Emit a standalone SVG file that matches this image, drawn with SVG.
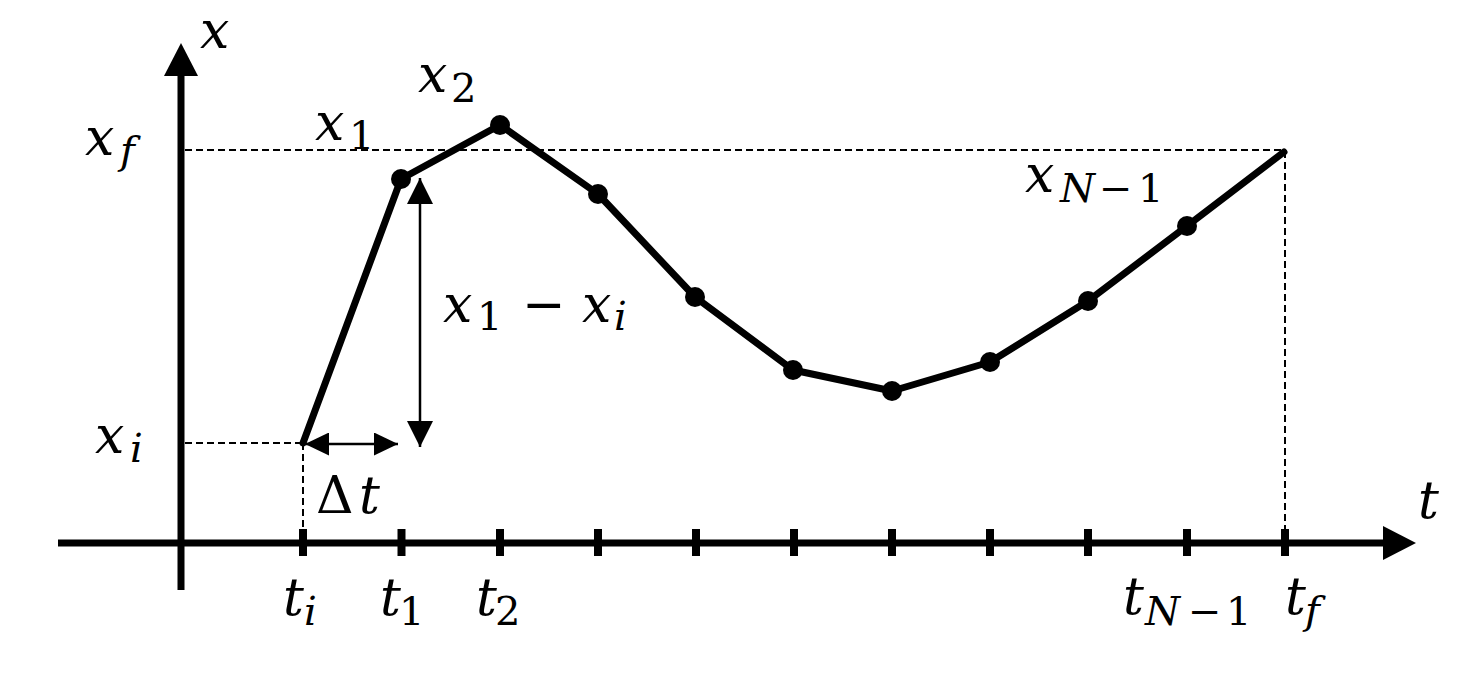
<svg xmlns="http://www.w3.org/2000/svg" width="1483" height="695" viewBox="0 0 1483 695">
<defs>
<marker id="ah" markerUnits="userSpaceOnUse" markerWidth="26" markerHeight="26" refX="26" refY="13" orient="auto-start-reverse" viewBox="0 0 26 26">
<path d="M0,0 L26,13 L0,26 Z" fill="#000"/>
</marker>
<marker id="ahs" markerUnits="userSpaceOnUse" markerWidth="24" markerHeight="23" refX="24" refY="11.5" orient="auto-start-reverse" viewBox="0 0 24 23">
<path d="M0,0 L24,11.5 L0,23 Z" fill="#000"/>
</marker>
</defs>
<rect width="1483" height="695" fill="#fff"/>
<g id="axes" stroke="#000" fill="none">
<line stroke-width="7" x1="181" y1="590" x2="181" y2="74"/>
<polygon points="181,43 164,76 198,76" fill="#000" stroke="none"/>
<line stroke-width="7" x1="58" y1="543" x2="1386" y2="543"/>
<polygon points="1416,543 1383,526 1383,560" fill="#000" stroke="none"/>
<g id="ticks" stroke-width="8">
<line x1="303" y1="529" x2="303" y2="556"/>
<line x1="401.5" y1="529" x2="401.5" y2="556"/>
<line x1="500" y1="529" x2="500" y2="556"/>
<line x1="598" y1="529" x2="598" y2="556"/>
<line x1="696" y1="529" x2="696" y2="556"/>
<line x1="794" y1="529" x2="794" y2="556"/>
<line x1="892" y1="529" x2="892" y2="556"/>
<line x1="990" y1="529" x2="990" y2="556"/>
<line x1="1088" y1="529" x2="1088" y2="556"/>
<line x1="1187" y1="529" x2="1187" y2="556"/>
<line x1="1285" y1="529" x2="1285" y2="556"/>
</g>
</g>
<g id="guides" stroke="#000" stroke-width="2" stroke-dasharray="7 4" fill="none">
<line x1="185" y1="150" x2="1285" y2="150"/>
<line x1="185" y1="443" x2="303" y2="443"/>
<line x1="303" y1="443" x2="303" y2="540"/>
<line x1="1285" y1="151" x2="1285" y2="540"/>
</g>
<g id="connectors" stroke="#000" fill="none">
<polyline stroke-width="7" stroke-linejoin="round" stroke-linecap="round" points="303,443 401,179 500,125 598,194 695,297 793,370 892,391 990,362 1088,301 1187,226 1284,152"/>
<line stroke-width="2.5" x1="420" y1="178" x2="420" y2="447" marker-start="url(#ah)" marker-end="url(#ah)"/>
<line stroke-width="2.5" x1="305" y1="444" x2="398" y2="444" marker-start="url(#ahs)" marker-end="url(#ahs)"/>
</g>
<g id="points" fill="#000">
<circle id="p1" cx="401" cy="179" r="10"/>
<circle id="p2" cx="500" cy="125" r="10"/>
<circle id="p3" cx="598" cy="194" r="10"/>
<circle id="p4" cx="695" cy="297" r="10"/>
<circle id="p5" cx="793" cy="370" r="10"/>
<circle id="p6" cx="892" cy="391" r="10"/>
<circle id="p7" cx="990" cy="362" r="10"/>
<circle id="p8" cx="1088" cy="301" r="10"/>
<circle id="p9" cx="1187" cy="226" r="10"/>
</g>
<text x="200" y="48" font-family="DejaVu Serif" font-style="italic" font-size="52">x</text>
<text x="1418" y="518" font-family="DejaVu Serif" font-style="italic" font-size="52">t</text>
<text font-family="DejaVu Serif" font-style="italic" font-size="52"><tspan x="85" y="155">x</tspan><tspan font-size="40" x="120" y="164">f</tspan></text>
<text font-family="DejaVu Serif" font-style="italic" font-size="52"><tspan x="95" y="453">x</tspan><tspan font-size="40" x="130" y="462">i</tspan></text>
<text font-family="DejaVu Serif" font-style="italic" font-size="52"><tspan x="315" y="140">x</tspan><tspan font-size="40" font-style="normal" x="349" y="149">1</tspan></text>
<text font-family="DejaVu Serif" font-style="italic" font-size="52"><tspan x="418" y="92">x</tspan><tspan font-size="40" font-style="normal" x="451" y="102">2</tspan></text>
<text font-family="DejaVu Serif" font-style="italic" font-size="52"><tspan x="1025" y="192">x</tspan><tspan font-size="40" x="1060" y="202">N</tspan><tspan font-size="40" font-style="normal" x="1099" y="202">−</tspan><tspan font-size="40" font-style="normal" x="1138" y="202">1</tspan></text>
<text font-family="DejaVu Serif" font-style="italic" font-size="52"><tspan x="443" y="322">x</tspan><tspan font-size="40" font-style="normal" x="477" y="330">1</tspan><tspan font-style="normal" x="522" y="322">−</tspan><tspan x="582" y="322">x</tspan><tspan font-size="40" x="614" y="330">i</tspan></text>
<text font-family="DejaVu Serif" font-style="italic" font-size="52"><tspan font-style="normal" x="316" y="513">Δ</tspan><tspan x="359" y="513">t</tspan></text>
<text font-family="DejaVu Serif" font-style="italic" font-size="52"><tspan x="283" y="615">t</tspan><tspan font-size="40" x="304" y="625">i</tspan></text>
<text font-family="DejaVu Serif" font-style="italic" font-size="52"><tspan x="380" y="615">t</tspan><tspan font-size="40" font-style="normal" x="399" y="625">1</tspan></text>
<text font-family="DejaVu Serif" font-style="italic" font-size="52"><tspan x="476" y="615">t</tspan><tspan font-size="40" font-style="normal" x="495" y="625">2</tspan></text>
<text font-family="DejaVu Serif" font-style="italic" font-size="52"><tspan x="1123" y="614">t</tspan><tspan font-size="40" x="1145" y="625">N</tspan><tspan font-size="40" font-style="normal" x="1188" y="625">−</tspan><tspan font-size="40" font-style="normal" x="1226" y="625">1</tspan></text>
<text font-family="DejaVu Serif" font-style="italic" font-size="52"><tspan x="1285" y="614">t</tspan><tspan font-size="40" x="1305" y="624">f</tspan></text>
</svg>
